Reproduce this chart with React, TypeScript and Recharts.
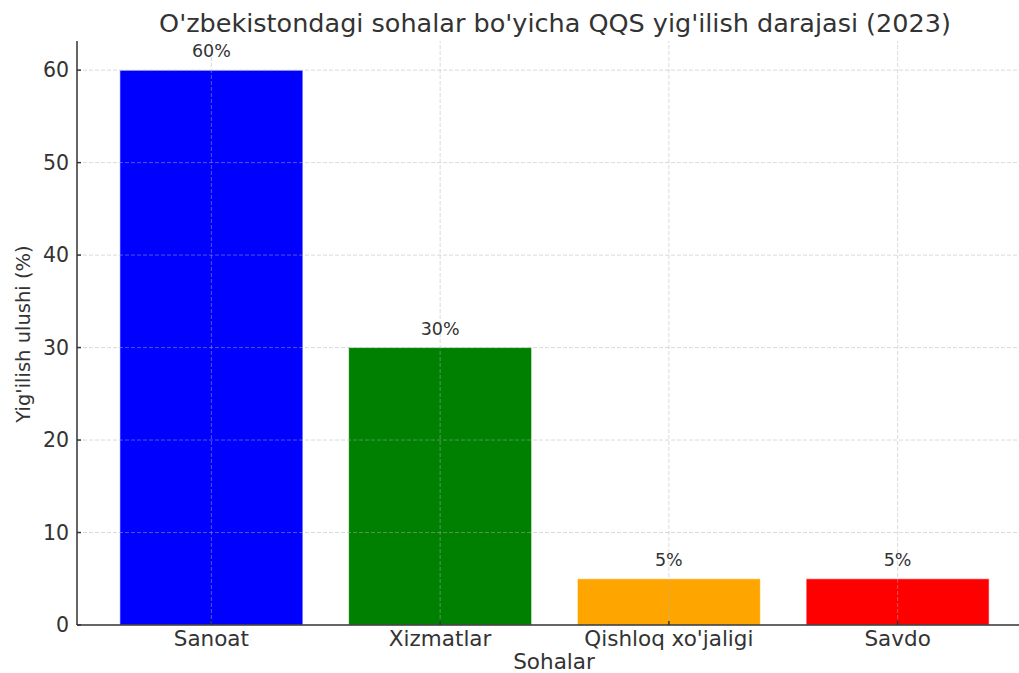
import React from 'react';
import { BarChart, Bar, XAxis, YAxis, Cell, LabelList, ReferenceLine } from 'recharts';

const categories = ['Sanoat', 'Xizmatlar', "Qishloq xo'jaligi", 'Savdo'];
const shares = [60, 30, 5, 5];
const barColors = ['#0000ff', '#008000', '#ffa500', '#ff0000'];
const yTicks = [0, 10, 20, 30, 40, 50, 60];

const data = categories.map((name, i) => ({ name, value: shares[i] }));

const font = 'DejaVu Sans';
const textColor = '#333333';
const gridColor = 'rgba(176,176,176,0.6)';

const App: React.FC = () => {
    return (
        <div style={{ position: 'absolute', left: 0, top: 0, width: 1019, height: 673, overflow: 'hidden', background: '#fff', fontFamily: font }}>
            <BarChart
                width={1040}
                height={673}
                data={data}
                margin={{ top: 41, right: 8, left: 17, bottom: 18 }}
                barCategoryGap="10%"
            >
                <XAxis
                    dataKey="name"
                    padding={{ left: 20, right: 20 }}
                    height={30}
                    stroke="#333"
                    strokeWidth={1.5}
                    tickSize={-4}
                    tickMargin={10}
                    tick={{ fill: textColor, fontSize: 21.5, fontFamily: font }}
                />
                <YAxis
                    width={60}
                    domain={[0, 63.15]}
                    ticks={yTicks}
                    allowDataOverflow
                    stroke="#333"
                    strokeWidth={1.5}
                    tickSize={-4}
                    tickMargin={12}
                    tick={{ fill: textColor, fontSize: 20.5, fontFamily: font }}
                />
                <Bar dataKey="value" isAnimationActive={false} stroke="#ffffff" strokeWidth={0.6}>
                    {data.map((d, i) => (
                        <Cell key={d.name} fill={barColors[i]} />
                    ))}
                    <LabelList
                        dataKey="value"
                        position="top"
                        offset={13}
                        formatter={(v: any) => `${v}%`}
                        style={{ fill: textColor, fontSize: 17.5, fontFamily: font }}
                    />
                </Bar>
                {yTicks.filter((t) => t > 0).map((t) => (
                    <ReferenceLine key={`y${t}`} y={t} stroke={gridColor} strokeDasharray="4 2" strokeWidth={0.8} />
                ))}
                {categories.map((c) => (
                    <ReferenceLine key={`x${c}`} x={c} stroke={gridColor} strokeDasharray="4 2" strokeWidth={0.8} />
                ))}
            </BarChart>
            <div style={{ position: 'absolute', left: 0, width: 1110, top: 8, textAlign: 'center', fontSize: 25.5, lineHeight: 'normal', color: textColor, whiteSpace: 'nowrap' }}>
                O'zbekistondagi sohalar bo'yicha QQS yig'ilish darajasi (2023)
            </div>
            <div style={{ position: 'absolute', left: 0, width: 1108, top: 653, textAlign: 'center', fontSize: 21.5, lineHeight: '18px', color: textColor }}>
                Sohalar
            </div>
            <div style={{ position: 'absolute', left: 23, top: 334, transform: 'translate(-50%, -50%) rotate(-90deg)', fontSize: 19.5, color: textColor, whiteSpace: 'nowrap' }}>
                Yig'ilish ulushi (%)
            </div>
        </div>
    );
};

export default App;
